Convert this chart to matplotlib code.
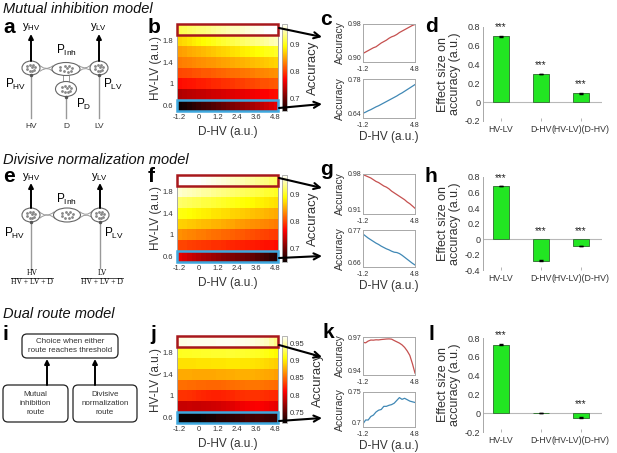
import numpy as np
import matplotlib.pyplot as plt
from matplotlib.patches import Ellipse, Rectangle, FancyBboxPatch, FancyArrowPatch

plt.rcParams['font.family'] = ['Liberation Sans', 'DejaVu Sans']
plt.rcParams['mathtext.fontset'] = 'custom'
plt.rcParams['mathtext.rm'] = 'Liberation Sans'
plt.rcParams['mathtext.it'] = 'Liberation Sans:italic'
plt.rcParams['mathtext.default'] = 'regular'

# ---- data ----
D_HV = [-1.2, -0.9, -0.6, -0.3, 0.0, 0.3, 0.6, 0.9, 1.2, 1.5, 1.8,
        2.1, 2.4, 2.7, 3.0, 3.3, 3.6, 3.9, 4.2, 4.5, 4.8]
HV_LV = [0.6, 0.8, 1.0, 1.2, 1.4, 1.6, 1.8, 2.0]
hm_xticks = [-1.2, 0, 1.2, 2.4, 3.6, 4.8]
hm_xticklabels = ['-1.2', '0', '1.2', '2.4', '3.6', '4.8']
hm_yticks = [0.6, 1.0, 1.4, 1.8]
hm_yticklabels = ['0.6', '1', '1.4', '1.8']

# mutual inhibition model (rows HV-LV = 0.6 ... 2.0)
b_06 = [0.657, 0.661, 0.666, 0.670, 0.675, 0.680, 0.684, 0.689, 0.694, 0.699, 0.704,
        0.709, 0.714, 0.719, 0.725, 0.730, 0.736, 0.742, 0.748, 0.754, 0.760]
b_08 = [0.735, 0.737, 0.739, 0.741, 0.743, 0.745, 0.747, 0.749, 0.751, 0.753, 0.755,
        0.757, 0.759, 0.761, 0.763, 0.766, 0.768, 0.770, 0.772, 0.775, 0.777]
b_10 = [0.777, 0.779, 0.781, 0.782, 0.784, 0.786, 0.788, 0.790, 0.792, 0.794, 0.796,
        0.798, 0.800, 0.802, 0.804, 0.806, 0.808, 0.810, 0.811, 0.813, 0.815]
b_12 = [0.805, 0.807, 0.808, 0.810, 0.812, 0.814, 0.815, 0.817, 0.819, 0.821, 0.823,
        0.825, 0.826, 0.828, 0.830, 0.832, 0.834, 0.836, 0.837, 0.839, 0.841]
b_14 = [0.831, 0.833, 0.835, 0.837, 0.839, 0.841, 0.843, 0.845, 0.847, 0.849, 0.851,
        0.853, 0.855, 0.857, 0.859, 0.862, 0.864, 0.866, 0.868, 0.871, 0.873]
b_16 = [0.847, 0.850, 0.853, 0.855, 0.858, 0.861, 0.864, 0.867, 0.870, 0.873, 0.876,
        0.879, 0.882, 0.885, 0.888, 0.891, 0.894, 0.897, 0.900, 0.902, 0.905]
b_18 = [0.873, 0.877, 0.881, 0.885, 0.889, 0.893, 0.897, 0.901, 0.905, 0.909, 0.913,
        0.917, 0.921, 0.925, 0.929, 0.933, 0.937, 0.941, 0.945, 0.949, 0.953]
b_20 = [0.918, 0.921, 0.924, 0.927, 0.930, 0.932, 0.936, 0.940, 0.943, 0.946, 0.950,
        0.953, 0.955, 0.958, 0.962, 0.965, 0.968, 0.971, 0.974, 0.977, 0.979]

# divisive normalization model
f_06 = [0.758, 0.752, 0.746, 0.741, 0.736, 0.731, 0.727, 0.722, 0.718, 0.714, 0.711,
        0.707, 0.704, 0.703, 0.700, 0.695, 0.689, 0.683, 0.677, 0.671, 0.666]
f_08 = [0.801, 0.800, 0.798, 0.797, 0.796, 0.794, 0.793, 0.791, 0.790, 0.789, 0.787,
        0.786, 0.784, 0.783, 0.782, 0.780, 0.779, 0.777, 0.776, 0.775, 0.773]
f_10 = [0.836, 0.834, 0.832, 0.830, 0.828, 0.826, 0.824, 0.822, 0.820, 0.818, 0.816,
        0.814, 0.812, 0.810, 0.808, 0.806, 0.803, 0.801, 0.799, 0.797, 0.795]
f_12 = [0.868, 0.866, 0.864, 0.862, 0.860, 0.858, 0.856, 0.854, 0.852, 0.850, 0.848,
        0.846, 0.843, 0.841, 0.839, 0.837, 0.835, 0.833, 0.831, 0.829, 0.827]
f_14 = [0.894, 0.892, 0.890, 0.887, 0.885, 0.883, 0.881, 0.878, 0.876, 0.874, 0.872,
        0.869, 0.867, 0.865, 0.863, 0.860, 0.858, 0.856, 0.854, 0.851, 0.849]
f_16 = [0.922, 0.920, 0.917, 0.915, 0.913, 0.910, 0.908, 0.906, 0.903, 0.901, 0.899,
        0.896, 0.894, 0.891, 0.889, 0.887, 0.884, 0.882, 0.880, 0.877, 0.875]
f_18 = [0.954, 0.951, 0.948, 0.946, 0.943, 0.940, 0.938, 0.935, 0.932, 0.930, 0.927,
        0.924, 0.921, 0.919, 0.916, 0.913, 0.911, 0.908, 0.905, 0.903, 0.900]
f_20 = [0.979, 0.977, 0.975, 0.973, 0.970, 0.967, 0.965, 0.962, 0.959, 0.957, 0.954,
        0.950, 0.947, 0.944, 0.941, 0.938, 0.935, 0.931, 0.928, 0.924, 0.920]

# dual route model
j_06 = [0.7045, 0.710, 0.710, 0.715, 0.717, 0.7214, 0.724, 0.725, 0.7295, 0.7295, 0.731,
        0.732, 0.734, 0.738, 0.742, 0.7395, 0.741, 0.739, 0.737, 0.736, 0.735]
j_08 = [0.790, 0.790, 0.791, 0.790, 0.790, 0.791, 0.792, 0.793, 0.794, 0.796, 0.798,
        0.800, 0.803, 0.806, 0.808, 0.809, 0.810, 0.809, 0.807, 0.805, 0.803]
j_10 = [0.830, 0.830, 0.829, 0.828, 0.826, 0.825, 0.824, 0.823, 0.823, 0.824, 0.825,
        0.826, 0.828, 0.829, 0.830, 0.830, 0.830, 0.829, 0.828, 0.827, 0.826]
j_12 = [0.853, 0.853, 0.852, 0.852, 0.851, 0.851, 0.850, 0.850, 0.850, 0.851, 0.852,
        0.853, 0.854, 0.855, 0.856, 0.856, 0.856, 0.855, 0.854, 0.853, 0.852]
j_14 = [0.876, 0.876, 0.876, 0.875, 0.875, 0.875, 0.875, 0.875, 0.876, 0.876, 0.877,
        0.877, 0.878, 0.878, 0.878, 0.878, 0.877, 0.876, 0.875, 0.874, 0.872]
j_16 = [0.897, 0.897, 0.897, 0.897, 0.898, 0.898, 0.898, 0.899, 0.899, 0.899, 0.900,
        0.900, 0.900, 0.899, 0.899, 0.898, 0.897, 0.896, 0.894, 0.892, 0.890]
j_18 = [0.916, 0.917, 0.917, 0.918, 0.918, 0.919, 0.919, 0.920, 0.920, 0.920, 0.921,
        0.921, 0.920, 0.920, 0.919, 0.918, 0.917, 0.915, 0.913, 0.910, 0.907]
j_20 = [0.9658, 0.9654, 0.9668, 0.9676, 0.9675, 0.9678, 0.9677, 0.9680, 0.9682, 0.9684, 0.9685,
        0.9683, 0.9672, 0.9662, 0.9652, 0.9638, 0.9618, 0.9590, 0.9555, 0.9490, 0.9415]

bar_labels = ['HV-LV', 'D-HV', '(HV-LV)(D-HV)']
d_vals = [0.70, 0.30, 0.095]
h_vals = [0.685, -0.28, -0.093]
l_vals = [0.73, 0.003, -0.046]
d_err = [0.004, 0.004, 0.003]
h_err = [0.004, 0.004, 0.003]
l_err = [0.004, 0.003, 0.003]
d_stars = ['***', '***', '***']
h_stars = ['***', '***', '***']
l_stars = ['***', '', '***']

W, H = 617, 453
fig = plt.figure(figsize=(W / 100, H / 100), dpi=100)
TXT = '#333333'
SPINE = '#a8a8a8'


def box(x0, y0, x1, y1):
    return fig.add_axes([x0 / W, 1 - y1 / H, (x1 - x0) / W, (y1 - y0) / H])


def grey_spines(ax):
    for s in ax.spines.values():
        s.set_color(SPINE)
        s.set_linewidth(0.7)
    ax.tick_params(colors=SPINE, labelcolor=TXT, width=0.6)


def heat(y0, y1, rows, vmin, vmax, cticks, cticklabels):
    grid = np.array(rows)
    ax = box(177, y0, 278, y1)
    im = ax.imshow(grid, cmap='hot', vmin=vmin, vmax=vmax, origin='lower', aspect='auto',
                   interpolation='nearest', extent=[-1.35, 4.95, 0.5, 2.1])
    ax.set_xticks(hm_xticks)
    ax.set_xticklabels(hm_xticklabels)
    ax.set_yticks(hm_yticks)
    ax.set_yticklabels(hm_yticklabels)
    grey_spines(ax)
    ax.tick_params(labelsize=5.5, length=0, pad=2.5)
    ax.set_xlabel('D-HV (a.u.)', fontsize=8.5, color=TXT, labelpad=3)
    ax.set_ylabel('HV-LV (a.u.)', fontsize=8.5, color=TXT, labelpad=1)
    ax.add_patch(Rectangle((-1.33, 1.9), 6.26, 0.2, fill=False, ec='#a8181c', lw=1.8,
                           clip_on=False, zorder=5))
    ax.add_patch(Rectangle((-1.33, 0.5), 6.26, 0.2, fill=False, ec='#3ea8de', lw=1.8,
                           clip_on=False, zorder=5))
    cax = box(282, y0, 287, y1)
    cb = fig.colorbar(im, cax=cax, ticks=cticks)
    cb.ax.set_yticklabels(cticklabels)
    cb.outline.set_edgecolor(SPINE)
    cb.outline.set_linewidth(0.6)
    cb.ax.tick_params(labelsize=5.5, length=0, pad=2, labelcolor=TXT)
    cb.set_label('Accuracy', fontsize=9.5, color=TXT, labelpad=5, rotation=90)
    cb.ax.yaxis.set_label_position('right')


def line(y0, y1, vals, color, lim, ticklabels, xlabel):
    ax = box(363, y0, 415, y1)
    ax.plot(D_HV, vals, color=color, lw=0.9)
    ax.set_xlim(-1.2, 4.8)
    ax.set_ylim(lim)
    ax.set_xticks([-1.2, 4.8])
    ax.set_xticklabels(['-1.2', '4.8'])
    ax.set_yticks(lim)
    ax.set_yticklabels(ticklabels)
    grey_spines(ax)
    ax.tick_params(axis='y', labelsize=5, length=0, pad=1)
    ax.tick_params(axis='x', labelsize=5, length=0, pad=3)
    ax.get_yticklabels()[0].set_va('bottom')
    ax.set_ylabel('Accuracy', fontsize=7.5, color=TXT, labelpad=2)
    if xlabel:
        ax.set_xlabel('D-HV (a.u.)', fontsize=8.5, color=TXT, labelpad=1.5)


def bars(y_top, y_bot, vals, errs, stars, ylim):
    ax = box(483, y_top, 602, y_bot)
    pos = [1, 2, 3]
    ax.bar(pos, vals, width=0.4, color='#22e622', edgecolor='#3a7a3a', linewidth=0.7,
           yerr=errs, error_kw=dict(ecolor='k', elinewidth=0.6, capsize=1.5), zorder=3)
    ax.axhline(0, color='#b8b8b8', lw=0.8, zorder=1)
    for p, v, s in zip(pos, vals, stars):
        if s:
            ax.text(p, max(v, 0) + 0.1, s, ha='center', va='center', fontsize=7, color='#222222')
    ax.set_xlim(0.55, 3.525)
    ax.set_ylim(ylim)
    ticks = np.arange(ylim[0], ylim[1] + 0.01, 0.2)
    ax.set_yticks(ticks)
    ax.set_yticklabels(['%g' % round(t, 1) for t in ticks])
    ax.set_xticks(pos)
    ax.set_xticklabels(bar_labels)
    for s in ['top', 'right', 'bottom']:
        ax.spines[s].set_visible(False)
    grey_spines(ax)
    ax.tick_params(axis='y', labelsize=6.5, length=0, pad=2)
    ax.tick_params(axis='x', labelsize=6.3, length=2, pad=3, direction='in')
    ax.set_ylabel('Effect size on\naccuracy (a.u.)', fontsize=9, color=TXT, labelpad=3,
                  linespacing=1.0)


# ---- heatmaps ----
heat(24, 111, [b_06, b_08, b_10, b_12, b_14, b_16, b_18, b_20], 0.655, 0.975,
     [0.7, 0.8, 0.9], ['0.7', '0.8', '0.9'])
heat(175, 262, [f_06, f_08, f_10, f_12, f_14, f_16, f_18, f_20], 0.652, 0.970,
     [0.7, 0.8, 0.9], ['0.7', '0.8', '0.9'])
heat(336, 423, [j_06, j_08, j_10, j_12, j_14, j_16, j_18, j_20], 0.718, 0.973,
     [0.75, 0.8, 0.85, 0.9, 0.95], ['0.75', '0.8', '0.85', '0.9', '0.95'])

# ---- line panels ----
RED, BLUE = '#c5504f', '#4088b5'
line(24, 62, b_20, RED, (0.90, 0.98), ['0.90', '0.98'], False)
line(79, 118, b_06, BLUE, (0.64, 0.78), ['0.64', '0.78'], True)
line(174, 214, f_20, RED, (0.91, 0.98), ['0.91', '0.98'], False)
line(230, 267, f_06, BLUE, (0.66, 0.77), ['0.66', '0.77'], True)
line(337, 375, j_20, RED, (0.94, 0.97), ['0.94', '0.97'], False)
line(392, 427, j_06, BLUE, (0.70, 0.75), ['0.7', '0.75'], True)

# ---- bar panels ----
bars(27, 121, d_vals, d_err, d_stars, (-0.2, 0.8))
bars(177, 270, h_vals, h_err, h_stars, (-0.4, 0.8))
bars(338, 432, l_vals, l_err, l_stars, (-0.2, 0.8))

# ---- overlay in pixel coordinates: diagrams, arrows, titles ----
ov = fig.add_axes([0, 0, 1, 1])
ov.set_xlim(0, W)
ov.set_ylim(H, 0)
ov.axis('off')
ov.set_zorder(10)

DOTS = [(-0.5, -0.3), (-0.15, 0.45), (0.1, -0.1), (0.45, 0.3), (0.3, -0.5),
        (-0.1, -0.55), (0.55, -0.1), (-0.5, 0.25), (0.2, 0.55)]


def pool(cx, cy, w, h):
    ov.add_patch(Ellipse((cx, cy), w, h, fc='white', ec='#666666', lw=0.8, zorder=3))
    for dx, dy in DOTS:
        ov.plot(cx + dx * w / 2 * 0.8, cy + dy * h / 2 * 0.8, 'o', ms=1.0,
                color='#888888', zorder=4)


def arc(p0, p1, rad):
    ov.add_patch(FancyArrowPatch(p0, p1, connectionstyle='arc3,rad=%s' % rad,
                                 arrowstyle='-', color='#999999', lw=0.7, zorder=2))


def up_arrow(x, y0, y1):
    ov.annotate('', xy=(x, y1), xytext=(x, y0),
                arrowprops=dict(arrowstyle='-|>', color='k', lw=1.4, mutation_scale=7,
                                shrinkA=0, shrinkB=0))


def input_line(x, y0, y1):
    ov.plot([x, x], [y0, y1], color='#999999', lw=1.0, zorder=1)
    ov.plot(x, y1, 'o', ms=1.5, color='#555555', zorder=5)


# panel a
pool(31, 68, 18, 14)
pool(66, 69, 28, 13)
pool(99, 68, 18, 14)
pool(66, 89, 21, 15)
arc((37, 62), (55, 64), 0.6)
arc((38, 73), (56, 75), -0.6)
arc((77, 64), (93, 62), 0.6)
arc((76, 75), (94, 73), -0.6)
ov.plot([63, 63], [76, 82], color='#999999', lw=0.7)
ov.plot([69, 69], [76, 82], color='#999999', lw=0.7)
up_arrow(31, 61, 34)
up_arrow(99, 61, 34)
input_line(31, 118, 75)
input_line(66, 118, 97)
input_line(99, 118, 75)
ov.text(31, 27, '$y_{HV}$', ha='center', va='center', fontsize=8)
ov.text(99, 27, '$y_{LV}$', ha='center', va='center', fontsize=8)
ov.text(66, 50, '$P_{Inh}$', ha='center', va='center', fontsize=8.5)
ov.text(16, 84, '$P_{HV}$', ha='center', va='center', fontsize=8.5)
ov.text(113, 84, '$P_{LV}$', ha='center', va='center', fontsize=8.5)
ov.text(84, 104, '$P_{D}$', ha='center', va='center', fontsize=8.5)
for x, s in [(31, 'HV'), (66, 'D'), (99, 'LV')]:
    ov.text(x, 127, s, ha='center', va='center', fontsize=6, color=TXT)

# panel e
pool(31, 215, 18, 14)
pool(67, 215, 27, 14)
pool(100, 215, 18, 14)
arc((37, 209), (56, 210), 0.6)
arc((38, 220), (57, 221), -0.6)
arc((78, 210), (94, 209), 0.6)
arc((77, 221), (95, 220), -0.6)
up_arrow(31, 208, 183)
up_arrow(100, 208, 183)
input_line(31, 268, 222)
input_line(100, 268, 222)
ov.text(31, 177, '$y_{HV}$', ha='center', va='center', fontsize=8)
ov.text(100, 177, '$y_{LV}$', ha='center', va='center', fontsize=8)
ov.text(66, 199, '$P_{Inh}$', ha='center', va='center', fontsize=8.5)
ov.text(15, 233, '$P_{HV}$', ha='center', va='center', fontsize=8.5)
ov.text(114, 233, '$P_{LV}$', ha='center', va='center', fontsize=8.5)
for x, s in [(32, 'HV'), (102, 'LV')]:
    ov.text(x, 273, s, ha='center', va='center', fontsize=5.5, family='Liberation Serif')
    ov.plot([x - 21, x + 21], [277.5, 277.5], color='#333333', lw=0.6)
    ov.text(x, 282.5, 'HV + LV + D', ha='center', va='center', fontsize=5.5,
            family='Liberation Serif')

# panel i
for (x0, y0, x1, y1, s) in [(22, 334, 118, 358, 'Choice when either\nroute reaches threshold'),
                            (3, 385, 68, 422, 'Mutual\ninhibition\nroute'),
                            (73, 385, 137, 422, 'Divisive\nnormalization\nroute')]:
    ov.add_patch(FancyBboxPatch((x0, y0), x1 - x0, y1 - y0,
                                boxstyle='round,pad=0,rounding_size=5',
                                fc='white', ec='#222222', lw=0.9))
    ov.text((x0 + x1) / 2, (y0 + y1) / 2, s, ha='center', va='center', fontsize=5.8,
            color=TXT, linespacing=1.35)
up_arrow(47, 385, 359)
up_arrow(95, 385, 359)

# arrows from heatmap rows to line panels
for ya, yb, yc, yd in [(28, 37, 108, 104), (178, 188, 258, 256), (345, 357, 421, 418)]:
    for p0, p1 in [((279, ya), (322, yb)), ((279, yc), (322, yd))]:
        ov.annotate('', xy=p1, xytext=p0,
                    arrowprops=dict(arrowstyle='->', color='k', lw=1.5, mutation_scale=11,
                                    shrinkA=0, shrinkB=0))

# titles and panel letters
for y, s in [(13, 'Mutual inhibition model'), (164, 'Divisive normalization model'),
             (318, 'Dual route model')]:
    ov.text(3, y, s, style='italic', fontsize=10.5, va='baseline', color='#111111')
for x, y, s in [(3, 33, 'a'), (148, 33, 'b'), (320, 25, 'c'), (425, 32, 'd'),
                (3, 182, 'e'), (148, 182, 'f'), (320, 175, 'g'), (425, 182, 'h'),
                (3, 340, 'i'), (150, 340, 'j'), (322, 338, 'k'), (428, 340, 'l')]:
    ov.text(x, y, s, weight='bold', fontsize=15, va='baseline', color='k')

fig.savefig('out.png', dpi=100)
